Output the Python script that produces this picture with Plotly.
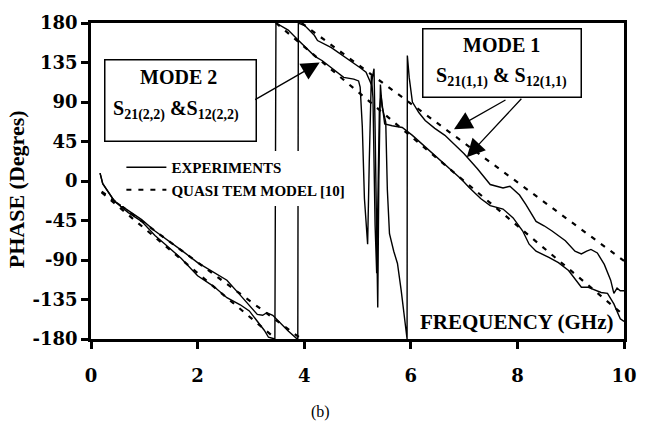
import plotly.graph_objects as go

# ---------------- data ----------------
# Experiment, curve A (upper at low frequency, wraps at ~3.88 GHz and ~5.93 GHz)
freq_exp_a = [0.17, 0.22, 0.44, 0.70, 0.95, 1.20, 1.39, 1.70, 2.00, 2.30, 2.55, 2.80, 3.04, 3.12,
              3.22, 3.30, 3.41, 3.55, 3.70, 3.85, 3.88, 3.89, 4.01, 4.19, 4.25, 4.51, 4.80, 5.05,
              5.16, 5.24, 5.26, 5.28, 5.31, 5.33, 5.36, 5.38, 5.40, 5.43, 5.46, 5.50, 5.53, 5.56,
              5.60, 5.68, 5.75, 5.82, 5.88, 5.91, 5.93, 5.935, 5.97, 6.03, 6.15, 6.27, 6.45, 6.64,
              6.82, 7.00, 7.25, 7.49, 7.73, 7.86, 8.04, 8.16, 8.35, 8.50, 8.65, 8.90, 9.08, 9.20,
              9.30, 9.38, 9.50, 9.63, 9.75, 9.81, 9.87, 9.93, 10.0]
phase_exp_a = [9, -3, -23, -34, -44, -57, -65, -79, -93, -104, -113, -130, -147, -152,
               -153, -150, -153, -162, -171, -179, -180, 180, 177, 166, 160, 152, 140, 129,
               124, 114, 110, 118, 128, 60, -60, -144, 0, 110, 85, 75, 67, -10,
               -60, -80, -94, -125, -155, -175, -180, 143, 118, 90, 78, 69, 60, 52,
               42, 31, 14, -4, -8, -6, -16, -27, -46, -51, -57, -68, -80, -83,
               -80, -78, -82, -95, -113, -128, -122, -125, -125]

# Experiment, curve B (steeper at low frequency, wraps at ~3.46 GHz)
freq_exp_b = [0.17, 0.22, 0.44, 0.70, 0.95, 1.20, 1.39, 1.69, 2.00, 2.30, 2.55, 2.80, 2.97, 3.15,
              3.25, 3.33, 3.45, 3.47, 3.70, 3.88, 4.07, 4.20, 4.34, 4.51, 4.74, 4.93, 5.02, 5.05,
              5.09, 5.13, 5.19, 5.22, 5.26, 5.29, 5.33, 5.36, 5.38, 5.41, 5.44, 5.51, 5.65, 5.84,
              6.03, 6.27, 6.52, 6.76, 6.95, 7.09, 7.31, 7.49, 7.73, 7.92, 8.10, 8.22, 8.35, 8.59,
              8.77, 8.96, 9.08, 9.20, 9.32, 9.45, 9.57, 9.69, 9.81, 9.93, 10.0]
phase_exp_b = [9, -3, -23, -36, -46, -62, -72, -88, -108, -120, -133, -141, -148, -162,
               -170, -178, -180, 180, 172, 161, 150, 142, 137, 129, 118, 116, 114, 107,
               62, -20, -72, 20, 120, 95, -50, -105, -40, 80, 98, 65, 63, 61,
               52, 39, 26, 13, 2, -7, -20, -28, -32, -42, -57, -72, -80, -87,
               -93, -102, -111, -121, -121, -124, -127, -128, -140, -157, -160]

# Quasi-TEM model (dashed), two modes; None = phase wrap
freq_model_a = [0.2, 3.95, None, 3.95, 10.0]
phase_model_a = [-12, -180, None, 180, -91]
freq_model_b = [0.2, 3.47, None, 3.47, 10.0]
phase_model_b = [-13, -180, None, 180, -153]

x_ticks = [0, 2, 4, 6, 8, 10]
x_tick_labels = ["0", "2", "4", "6", "8", "10"]
y_ticks = [-180, -135, -90, -45, 0, 45, 90, 135, 180]
y_tick_labels = ["-180", "-135", "-90", "-45", "0", "45", "90", "135", "180"]

FONT = "Liberation Serif"

fig = go.Figure()
line_solid = dict(color="black", width=1.4)
line_dash = dict(color="black", width=2.2, dash="5px,7px")

fig.add_trace(go.Scatter(x=freq_exp_a, y=phase_exp_a, mode="lines", line=line_solid,
                         name="EXPERIMENTS", legendgroup="exp", showlegend=True))
fig.add_trace(go.Scatter(x=freq_exp_b, y=phase_exp_b, mode="lines", line=line_solid,
                         name="EXPERIMENTS", legendgroup="exp", showlegend=False))
fig.add_trace(go.Scatter(x=freq_model_a, y=phase_model_a, mode="lines", line=line_dash,
                         connectgaps=False, name="QUASI TEM MODEL [10]", legendgroup="mod",
                         showlegend=True))
fig.add_trace(go.Scatter(x=freq_model_b, y=phase_model_b, mode="lines", line=line_dash,
                         connectgaps=False, name="QUASI TEM MODEL [10]", legendgroup="mod",
                         showlegend=False))

tickfont = dict(family="DejaVu Serif", size=18, color="black", weight="bold")
axis_common = dict(showgrid=False, zeroline=False, linecolor="black", linewidth=2.5,
                   ticks="outside", ticklen=7, tickwidth=2.5, tickcolor="black")

fig.update_layout(
    width=649, height=422,
    margin=dict(l=91, r=12, t=20, b=83),
    paper_bgcolor="white", plot_bgcolor="white",
    xaxis=dict(range=[0, 10], tickvals=x_ticks, ticktext=x_tick_labels, tickfont=tickfont,
               mirror=True, ticklabelstandoff=12, **axis_common),
    yaxis=dict(range=[-180, 180], tickvals=y_ticks, ticktext=y_tick_labels, tickfont=tickfont,
               mirror=True, **axis_common),
    xaxis2=dict(range=[0, 10], tickvals=x_ticks, overlaying="x", anchor="y", side="bottom",
                showgrid=False, zeroline=False, showline=False, showticklabels=False,
                ticks="inside", ticklen=7, tickwidth=2.5, tickcolor="black"),
    yaxis2=dict(range=[-180, 180], tickvals=y_ticks, overlaying="y", anchor="x", side="left",
                showgrid=False, zeroline=False, showline=False, showticklabels=False,
                ticks="inside", ticklen=7, tickwidth=2.5, tickcolor="black"),
    showlegend=True,
    legend=dict(x=0.057, y=0.595, xanchor="left", yanchor="top", bgcolor="white",
                borderwidth=0, font=dict(family=FONT, size=15, color="black", weight="bold"),
                tracegroupgap=0, itemwidth=40),
)

ann_font = dict(family=FONT, color="black", weight="bold")


def paper_text(text, px, py, size, bold=True, **kw):
    font = dict(size=size, **ann_font) if bold else dict(family=FONT, size=size, color="black")
    return dict(text=text, xref="paper", yref="paper", x=(px - 91) / 546, y=(339 - py) / 319,
                xanchor="center", yanchor="middle", showarrow=False, font=font, **kw)


annotations = [
    # y-axis title
    paper_text("PHASE (Degres)", 15, 188, 22, textangle=-90),
    # x-axis title inside plot
    paper_text("FREQUENCY (GHz)", 527, 322, 21),
    # caption
    paper_text("(b)", 326, 413, 16, bold=False),
    # MODE 2 box and text
    paper_text(" ", 183, 98, 10, width=148, height=78, borderpad=1, bordercolor="black",
               borderwidth=1.5, bgcolor="white"),
    paper_text("MODE 2", 181, 75, 20),
    paper_text("S<sub>21(2,2)</sub> &amp;S<sub>12(2,2)</sub>", 178, 108, 20),
    # MODE 1 box and text
    paper_text(" ", 512.5, 60.5, 10, width=155, height=65, borderpad=1, bordercolor="black",
               borderwidth=1.5, bgcolor="white"),
    paper_text("MODE 1", 512, 42, 20),
    paper_text("S<sub>21(1,1)</sub> &amp; S<sub>12(1,1)</sub>", 512, 75, 20),
    # arrows
    dict(text="", x=4.29, y=135, xref="x", yref="y", ax=-66, ay=38, showarrow=True,
         arrowhead=2, arrowsize=2.8, arrowwidth=1.3, arrowcolor="black"),
    dict(text="", x=6.81, y=59, xref="x", yref="y", ax=53, ay=-30, showarrow=True,
         arrowhead=2, arrowsize=2.8, arrowwidth=1.3, arrowcolor="black"),
    dict(text="", x=7.05, y=27, xref="x", yref="y", ax=56, ay=-60, showarrow=True,
         arrowhead=2, arrowsize=2.8, arrowwidth=1.3, arrowcolor="black"),
]
fig.update_layout(annotations=annotations)

fig.write_html("out.html")
